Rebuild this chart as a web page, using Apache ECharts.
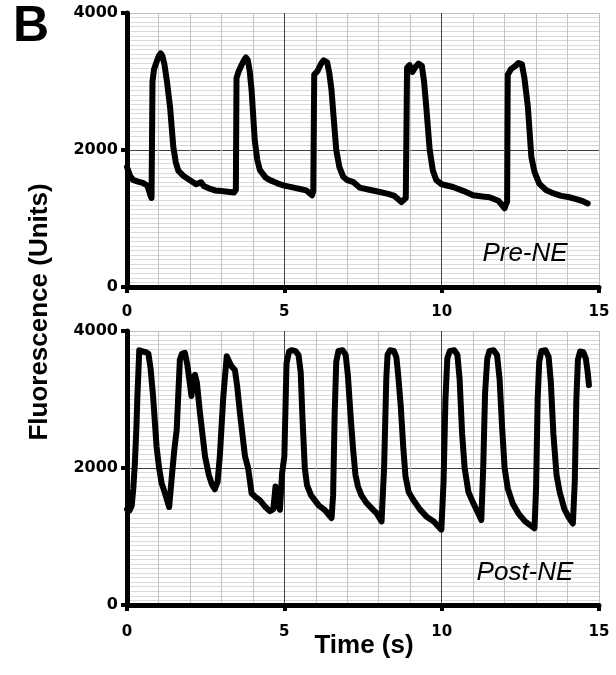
<!DOCTYPE html>
<html>
<head>
<meta charset="utf-8">
<script src="https://cdn.jsdelivr.net/npm/echarts@6/dist/echarts.min.js"></script>
<style>html,body{margin:0;padding:0;background:#fff;}#c{width:616px;height:675px;}</style>
</head>
<body>
<div id="c"></div>
<script>
// Pre-NE trace (time s, fluorescence units)
var preT = [0.0,0.1,0.2,0.35,0.5,0.65,0.75,0.78,0.81,0.86,0.95,1.02,1.07,1.12,1.19,1.27,1.37,1.47,1.55,1.63,1.8,2.0,2.2,2.35,2.45,2.6,2.8,3.0,3.2,3.4,3.46,3.48,3.55,3.65,3.73,3.78,3.84,3.9,3.96,4.06,4.14,4.22,4.4,4.54,4.8,5.0,5.3,5.5,5.7,5.88,5.92,5.95,6.05,6.18,6.25,6.3,6.36,6.43,6.5,6.58,6.65,6.75,6.87,7.0,7.2,7.4,7.7,8.0,8.3,8.5,8.72,8.86,8.9,8.98,9.07,9.18,9.26,9.31,9.37,9.44,9.51,9.62,9.72,9.83,10.0,10.36,10.7,11.0,11.3,11.52,11.8,12.0,12.08,12.1,12.2,12.35,12.44,12.49,12.55,12.63,12.74,12.85,12.95,13.1,13.3,13.53,13.8,14.06,14.3,14.5,14.64];
var preV = [1750,1620,1560,1540,1520,1480,1330,1300,3000,3180,3300,3380,3410,3380,3250,3000,2620,2050,1820,1700,1620,1560,1500,1530,1470,1440,1410,1400,1390,1380,1420,3050,3150,3250,3320,3350,3310,3150,2870,2140,1860,1710,1600,1560,1510,1480,1450,1430,1410,1340,1400,3100,3150,3270,3310,3320,3280,3120,2870,2400,2000,1750,1610,1560,1530,1450,1420,1390,1360,1330,1240,1300,3200,3240,3140,3220,3260,3270,3230,3000,2630,2000,1700,1560,1500,1460,1400,1340,1320,1310,1260,1150,1250,3100,3180,3230,3270,3280,3250,3050,2630,1900,1680,1510,1420,1370,1330,1310,1280,1250,1220];

// Post-NE trace
var postT = [0.0,0.08,0.15,0.2,0.25,0.3,0.33,0.39,0.5,0.6,0.68,0.75,0.83,0.94,1.02,1.10,1.2,1.34,1.42,1.5,1.58,1.68,1.75,1.84,1.92,2.05,2.1,2.16,2.22,2.32,2.48,2.6,2.7,2.79,2.88,2.95,3.06,3.17,3.25,3.33,3.43,3.5,3.59,3.75,3.85,3.96,4.1,4.22,4.4,4.54,4.65,4.72,4.78,4.86,4.93,5.0,5.07,5.15,5.23,5.35,5.45,5.52,5.57,5.65,5.72,5.85,6.1,6.3,6.5,6.55,6.6,6.65,6.72,6.85,6.95,7.02,7.1,7.18,7.26,7.34,7.45,7.61,7.8,7.93,8.09,8.17,8.24,8.28,8.36,8.48,8.56,8.62,8.70,8.78,8.85,8.95,9.09,9.3,9.52,9.75,9.99,10.06,10.12,10.18,10.26,10.4,10.5,10.57,10.65,10.73,10.85,11.0,11.15,11.26,11.32,11.38,11.45,11.52,11.65,11.76,11.84,11.92,12.0,12.1,12.26,12.45,12.65,12.8,12.95,13.0,13.05,13.1,13.17,13.3,13.4,13.47,13.55,13.65,13.75,13.9,14.05,14.17,14.23,14.28,14.33,14.4,14.5,14.58,14.64,14.68];
var postV = [1400,1380,1450,1700,2070,2600,3040,3720,3700,3690,3670,3450,3040,2310,2000,1780,1640,1430,1850,2250,2560,3580,3670,3680,3500,3050,3300,3360,3250,2800,2170,1900,1760,1690,1800,2170,3040,3630,3550,3480,3430,3200,2800,2170,2000,1630,1570,1530,1430,1370,1400,1730,1500,1390,1930,2170,3530,3700,3720,3710,3650,3400,2800,2000,1750,1600,1450,1380,1270,1600,2800,3550,3710,3720,3650,3350,2800,2300,1900,1730,1600,1490,1400,1340,1220,2000,3300,3650,3720,3710,3620,3350,2900,2300,1880,1650,1540,1400,1290,1220,1100,1800,3000,3600,3710,3720,3650,3300,2500,2000,1650,1490,1350,1240,2000,3100,3600,3710,3720,3650,3300,2600,2000,1700,1480,1330,1220,1170,1120,1700,3000,3550,3710,3720,3620,3250,2500,1900,1650,1400,1270,1190,1800,3000,3580,3700,3690,3600,3400,3210];

var xTicks = [0, 5, 10, 15];
var yTicks = [0, 2000, 4000];

function zip(t, v) { return t.map(function (x, i) { return [x, v[i]]; }); }

function font(size) { return { fontFamily: 'DejaVu Sans', fontWeight: 'bold', fontSize: size, color: '#000' }; }

function mkX(idx, margin) {
  return {
    type: 'value', gridIndex: idx, min: xTicks[0], max: xTicks[xTicks.length - 1], interval: 5,
    axisLine: { show: true, onZero: false, lineStyle: { color: '#000', width: 5 } },
    axisTick: { show: true, length: 6, lineStyle: { color: '#000', width: 4 } },
    axisLabel: Object.assign({ margin: margin, formatter: function (v) { return String(v); } }, font(15)),
    minorTick: { show: false, splitNumber: 5 },
    minorSplitLine: { show: true, lineStyle: { color: '#c4c4c4', width: 1 } },
    splitLine: { show: true, lineStyle: { color: ['#000', '#404040', '#404040', '#bfbfbf'], width: 1 } }
  };
}
function mkY(idx) {
  return {
    type: 'value', gridIndex: idx, min: yTicks[0], max: yTicks[yTicks.length - 1], interval: 2000,
    axisLine: { show: true, onZero: false, lineStyle: { color: '#000', width: 5 } },
    axisTick: { show: true, length: 6, lineStyle: { color: '#000', width: 4 } },
    axisLabel: Object.assign({ margin: 9, formatter: function (v) { return String(v); } }, font(16)),
    minorTick: { show: false, splitNumber: 30 },
    minorSplitLine: { show: true, lineStyle: { color: '#dadada', width: 1 } },
    splitLine: { show: true, lineStyle: { color: ['#000', '#404040', '#bfbfbf'], width: 1 } }
  };
}

function txt(x, y, s, size, weight, style, rot) {
  return {
    type: 'text', x: x, y: y, rotation: rot || 0, z: 100,
    style: {
      text: s, fontFamily: 'Liberation Sans', fontSize: size, fontWeight: weight, fontStyle: style,
      fill: '#000', stroke: null, lineWidth: 0, align: 'center', verticalAlign: 'middle'
    }
  };
}

var chart = echarts.init(document.getElementById('c'), null, { renderer: 'canvas' });
chart.setOption({
  animation: false,
  backgroundColor: '#fff',
  grid: [
    { left: 127, top: 13, width: 472, height: 274 },
    { left: 127, top: 331, width: 472, height: 274 }
  ],
  xAxis: [mkX(0, 18), mkX(1, 20)],
  yAxis: [mkY(0), mkY(1)],
  series: [
    { type: 'line', xAxisIndex: 0, yAxisIndex: 0, data: zip(preT, preV), showSymbol: false, symbol: 'none',
      lineStyle: { color: '#000', width: 6, join: 'round', cap: 'round' }, z: 5 },
    { type: 'line', xAxisIndex: 1, yAxisIndex: 1, data: zip(postT, postV), showSymbol: false, symbol: 'none',
      lineStyle: { color: '#000', width: 6, join: 'round', cap: 'round' }, z: 5 }
  ],
  graphic: [
    txt(31, 27, 'B', 50, 'bold', 'normal'),
    txt(40, 312, 'Fluorescence (Units)', 26, 'bold', 'normal', Math.PI / 2),
    txt(364, 646, 'Time (s)', 26, 'bold', 'normal'),
    txt(525, 254, 'Pre-NE', 26, 'normal', 'italic'),
    txt(525, 573, 'Post-NE', 26, 'normal', 'italic')
  ]
});
</script>
</body>
</html>
